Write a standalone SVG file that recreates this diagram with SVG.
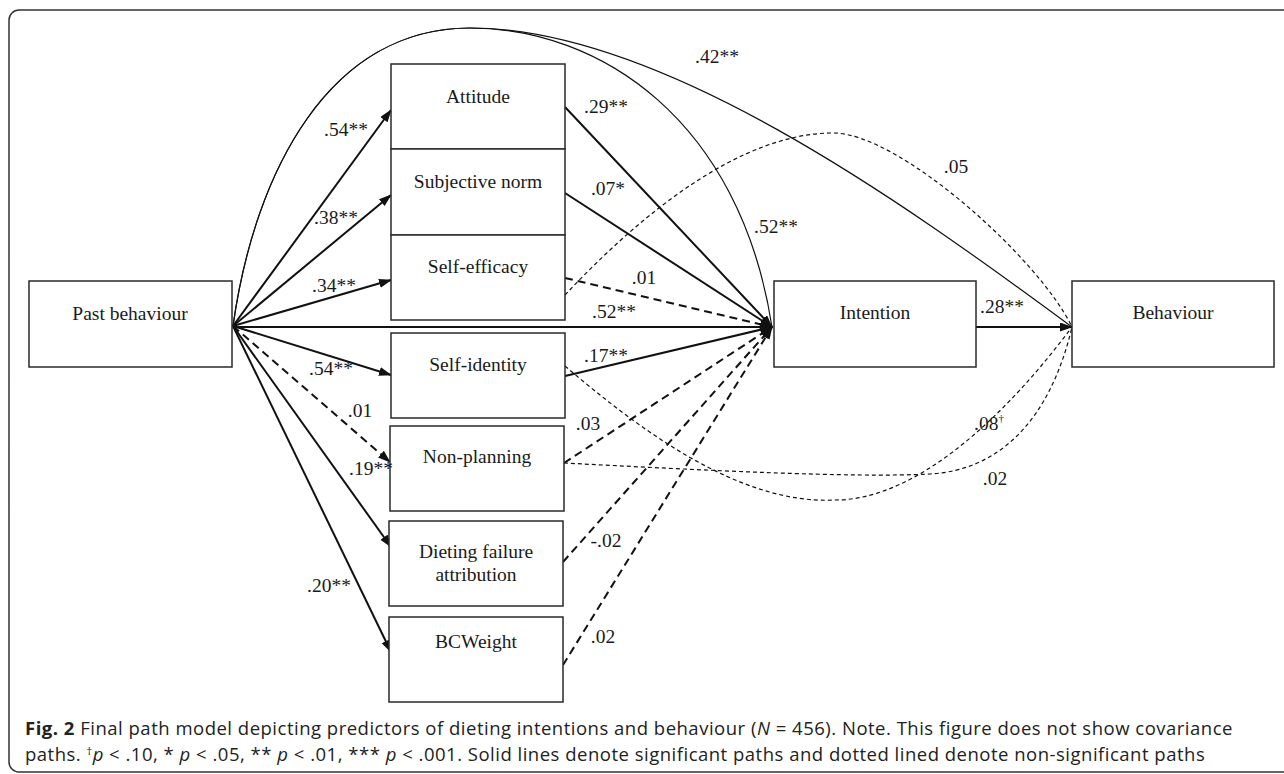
<svg xmlns="http://www.w3.org/2000/svg" width="1284" height="774" viewBox="0 0 1284 774">
<defs>
<style>
.box{fill:#fff;stroke:#2a2a2a;stroke-width:1.5}
.lbl{font-family:"Liberation Serif","Times New Roman",serif;font-size:19.5px;fill:#1a1a1a;text-anchor:middle}
.thick{fill:none;stroke:#111;stroke-width:2}
.thickd{fill:none;stroke:#111;stroke-width:2;stroke-dasharray:8 5}
.thin{fill:none;stroke:#111;stroke-width:1.2}
.thind{fill:none;stroke:#111;stroke-width:1.2;stroke-dasharray:4 3}
.cap{font-family:"Open Sans","Noto Sans",sans-serif;font-size:18.5px;letter-spacing:0.5px;fill:#222}
</style>
<marker id="ah" markerUnits="userSpaceOnUse" markerWidth="13" markerHeight="10" refX="12" refY="4.5" orient="auto">
<path d="M0,0 L13,4.5 L0,9 z" fill="#111"/>
</marker>
</defs>
<rect x="9" y="10" width="1290" height="762" rx="10" fill="#fff" stroke="#333" stroke-width="1.5"/>

<g id="connectors">
<line class="thick" x1="233" y1="326" x2="391" y2="110" marker-end="url(#ah)"/>
<line class="thick" x1="233" y1="326" x2="391" y2="195" marker-end="url(#ah)"/>
<line class="thick" x1="233" y1="326" x2="391" y2="280" marker-end="url(#ah)"/>
<line class="thick" x1="233" y1="326" x2="391" y2="375" marker-end="url(#ah)"/>
<line class="thickd" x1="233" y1="326" x2="390" y2="462" marker-end="url(#ah)"/>
<line class="thick" x1="233" y1="326" x2="391" y2="547" marker-end="url(#ah)"/>
<line class="thick" x1="233" y1="326" x2="391" y2="652" marker-end="url(#ah)"/>
<line class="thick" x1="233" y1="327" x2="772" y2="327" marker-end="url(#ah)"/>
<line class="thick" x1="565" y1="107" x2="772" y2="327" marker-end="url(#ah)"/>
<line class="thick" x1="565" y1="193" x2="772" y2="327" marker-end="url(#ah)"/>
<line class="thickd" x1="565" y1="278" x2="772" y2="327" marker-end="url(#ah)"/>
<line class="thick" x1="565" y1="376" x2="772" y2="327" marker-end="url(#ah)"/>
<line class="thickd" x1="564" y1="463" x2="772" y2="327" marker-end="url(#ah)"/>
<line class="thickd" x1="563" y1="562" x2="772" y2="327" marker-end="url(#ah)"/>
<line class="thickd" x1="563" y1="665" x2="772" y2="327" marker-end="url(#ah)"/>
<line class="thick" x1="976" y1="327" x2="1072" y2="327" marker-end="url(#ah)"/>
<path class="thin" d="M233,326 C255,170 330,28 470,28 C660,28 900,200 1072,327"/>
<path class="thin" d="M233,326 C255,170 330,28 470,28 C600,28 740,120 772,327"/>
<path class="thind" d="M565,295 C640,215 740,133 833,133 C900,133 1040,260 1072,327"/>
<path class="thind" d="M565,366 C640,430 740,505 835,500 C920,500 1010,410 1072,327"/>
<path class="thind" d="M564,463 C700,470 850,478 930,474 C1000,470 1050,420 1072,327"/>
</g>

<g id="past-behaviour">
<rect class="box" x="29" y="281" width="203" height="86"/>
<text class="lbl" x="130" y="320">Past behaviour</text>
</g>
<g id="attitude">
<rect class="box" x="391" y="64" width="174" height="85"/>
<text class="lbl" x="478" y="103">Attitude</text>
</g>
<g id="subjective-norm">
<rect class="box" x="391" y="149" width="174" height="86"/>
<text class="lbl" x="478" y="188">Subjective norm</text>
</g>
<g id="self-efficacy">
<rect class="box" x="391" y="235" width="174" height="85"/>
<text class="lbl" x="478" y="273">Self-efficacy</text>
</g>
<g id="self-identity">
<rect class="box" x="391" y="333" width="174" height="85"/>
<text class="lbl" x="478" y="371">Self-identity</text>
</g>
<g id="non-planning">
<rect class="box" x="390" y="426" width="174" height="85"/>
<text class="lbl" x="477" y="463">Non-planning</text>
</g>
<g id="dieting-failure">
<rect class="box" x="389" y="521" width="174" height="85"/>
<text class="lbl" x="476" y="558">Dieting failure</text>
<text class="lbl" x="476" y="581">attribution</text>
</g>
<g id="bcweight">
<rect class="box" x="389" y="617" width="174" height="85"/>
<text class="lbl" x="476" y="648">BCWeight</text>
</g>
<g id="intention">
<rect class="box" x="774" y="281" width="202" height="86"/>
<text class="lbl" x="875" y="319">Intention</text>
</g>
<g id="behaviour">
<rect class="box" x="1072" y="281" width="202" height="86"/>
<text class="lbl" x="1173" y="319">Behaviour</text>
</g>

<g id="labels">
<text class="lbl" x="346" y="136">.54**</text>
<text class="lbl" x="336" y="224">.38**</text>
<text class="lbl" x="334" y="292">.34**</text>
<text class="lbl" x="331" y="375">.54**</text>
<text class="lbl" x="360" y="417">.01</text>
<text class="lbl" x="371" y="475">.19**</text>
<text class="lbl" x="329" y="592">.20**</text>
<text class="lbl" x="606" y="113">.29**</text>
<text class="lbl" x="608" y="195">.07*</text>
<text class="lbl" x="644" y="284">.01</text>
<text class="lbl" x="614" y="318">.52**</text>
<text class="lbl" x="606" y="362">.17**</text>
<text class="lbl" x="588" y="430">.03</text>
<text class="lbl" x="606" y="547">-.02</text>
<text class="lbl" x="603" y="643">.02</text>
<text class="lbl" x="717" y="63">.42**</text>
<text class="lbl" x="776" y="233">.52**</text>
<text class="lbl" x="956" y="173">.05</text>
<text class="lbl" x="1002" y="313">.28**</text>
<text class="lbl" x="989" y="430">.08<tspan font-size="11" dy="-8">†</tspan></text>
<text class="lbl" x="995" y="485">.02</text>
</g>

<g id="caption">
<text class="cap" x="25" y="735"><tspan font-weight="bold">Fig. 2</tspan> Final path model depicting predictors of dieting intentions and behaviour (<tspan font-style="italic">N</tspan> = 456). Note. This figure does not show covariance</text>
<text class="cap" x="25" y="761">paths. <tspan font-size="11" dy="-6">†</tspan><tspan font-style="italic" dy="6">p</tspan> &lt; .10, * <tspan font-style="italic">p</tspan> &lt; .05, ** <tspan font-style="italic">p</tspan> &lt; .01, *** <tspan font-style="italic">p</tspan> &lt; .001. Solid lines denote significant paths and dotted lined denote non-significant paths</text>
</g>
</svg>
